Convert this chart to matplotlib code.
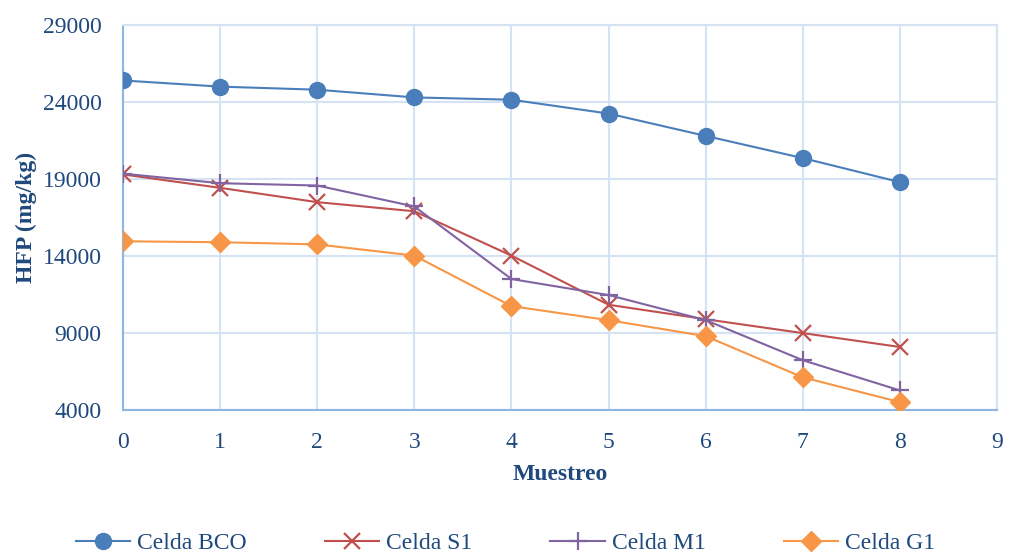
import matplotlib.pyplot as plt
import numpy as np

plt.rcParams['font.family'] = ['Liberation Serif', 'DejaVu Serif']

# datos
muestreo = [0, 1, 2, 3, 4, 5, 6, 7, 8]
celda_bco = [25400, 25000, 24800, 24300, 24150, 23250, 21800, 20360, 18800]
celda_s1 = [19300, 18430, 17500, 16910, 14030, 10840, 9900, 9000, 8100]
celda_m1 = [19350, 18730, 18580, 17220, 12510, 11470, 9840, 7240, 5280]
celda_g1 = [14960, 14900, 14760, 14030, 10750, 9840, 8800, 6130, 4520]

y_ticks = [4000, 9000, 14000, 19000, 24000, 29000]
x_ticks = list(range(0, 10))

text_color = "#1F497D"
grid_color = "#D6E3F5"
axis_color = "#8EB4E3"

fig = plt.figure(figsize=(10.11, 5.52), dpi=100)
ax = fig.add_axes([0.1217, 0.257, 0.8645, 0.6977])

ax.plot(muestreo, celda_bco, color="#4A7EBB", lw=1.5, marker="o", ms=11.5,
        mfc="#4A7EBB", mec="#4A7EBB", label="Celda BCO", zorder=3)
ax.plot(muestreo, celda_s1, color="#C0504D", lw=1.5, marker="x", ms=12,
        mew=1.6, label="Celda S1", zorder=3)
ax.plot(muestreo, celda_m1, color="#8064A2", lw=1.5, marker="+", ms=13,
        mew=1.6, label="Celda M1", zorder=3)
ax.plot(muestreo, celda_g1, color="#F79646", lw=1.5, marker="D", ms=10,
        mfc="#F79646", mec="#F79646", label="Celda G1", zorder=3)

ax.set_xlim(0, 9)
ax.set_ylim(4000, 29000)
ax.set_xticks(x_ticks)
ax.set_yticks(y_ticks)

ax.grid(True, color=grid_color, lw=1.5)
ax.set_axisbelow(True)
for side in ["top", "right"]:
    ax.spines[side].set_color(grid_color)
    ax.spines[side].set_linewidth(1.5)
for side in ["left", "bottom"]:
    ax.spines[side].set_color(axis_color)
    ax.spines[side].set_linewidth(1.5)

ax.tick_params(length=0, labelsize=17, labelcolor=text_color)
ax.tick_params(axis="y", pad=15.5)
ax.tick_params(axis="x", pad=16)

ax.set_xlabel("Muestreo", fontsize=17, fontweight="bold", color=text_color, labelpad=8)
ax.set_ylabel("HFP (mg/kg)", fontsize=17, fontweight="bold", color=text_color, labelpad=4)

leg = fig.legend(loc="center", bbox_to_anchor=(0.5, 0.016), ncol=4, frameon=False,
                 fontsize=17, handlelength=2.3, handletextpad=0.3,
                 columnspacing=3.3)
for t in leg.get_texts():
    t.set_color(text_color)

fig.savefig("out.png", dpi=100)
